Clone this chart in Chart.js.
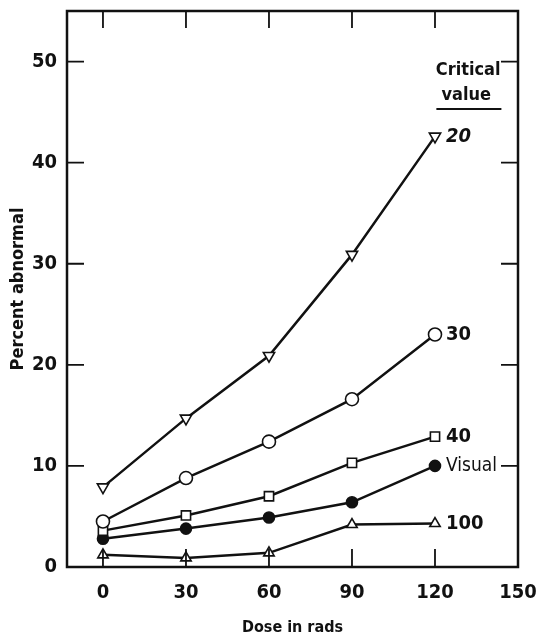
<!DOCTYPE html>
<html>
<head>
<meta charset="utf-8">
<script src="https://cdn.jsdelivr.net/npm/chart.js@4.4.1/dist/chart.umd.min.js"></script>
<style>
  html, body { margin: 0; padding: 0; background: #fff; }
</style>
</head>
<body>
<canvas id="doseChart" width="537" height="643"></canvas>
<script>
const doses = [0, 30, 60, 90, 120];
const seriesNames = ['20', '30', '40', 'Visual', '100'];
const crit20 = [7.9, 14.7, 20.9, 30.9, 42.6];
const crit30 = [4.5, 8.8, 12.4, 16.6, 23.0];
const crit40 = [3.6, 5.1, 7.0, 10.3, 12.9];
const visual = [2.8, 3.8, 4.9, 6.4, 10.0];
const crit100 = [1.2, 0.9, 1.4, 4.2, 4.3];
const xTicks = [0, 30, 60, 90, 120, 150];
const yTicks = [0, 10, 20, 30, 40, 50];

const FONT = '"Liberation Sans Narrow", "DejaVu Sans Condensed", "Arial Narrow", sans-serif';
const INK = '#111';

const allValues = [crit20, crit30, crit40, visual, crit100];
const markers = [
    { style: 'triangle', rotation: 180, radius: 6.5, fill: '#fff' },
    { style: 'circle', rotation: 0, radius: 6.5, fill: '#fff' },
    { style: 'rect', rotation: 0, radius: 6.5, fill: '#fff' },
    { style: 'circle', rotation: 0, radius: 5.5, fill: INK },
    { style: 'triangle', rotation: 0, radius: 6, fill: '#fff' }
];

const datasets = allValues.map((vals, i) => ({
    label: seriesNames[i],
    data: doses.map((d, j) => ({ x: d, y: vals[j] })),
    borderColor: INK,
    borderWidth: 2.5,
    tension: 0,
    pointStyle: markers[i].style,
    rotation: markers[i].rotation,
    pointRadius: markers[i].radius,
    pointBackgroundColor: markers[i].fill,
    pointBorderColor: INK,
    pointBorderWidth: 1.6
}));

// frame with inward ticks, end-of-line labels and the "Critical value" header
const framePlugin = {
    id: 'framePlugin',
    afterDraw(chart) {
        const { ctx, chartArea: a, scales: { x, y } } = chart;
        ctx.save();
        ctx.strokeStyle = INK;
        ctx.lineWidth = 2.5;
        ctx.strokeRect(a.left, a.top, a.right - a.left, a.bottom - a.top);

        ctx.lineWidth = 1.8;
        ctx.beginPath();
        xTicks.filter(v => v < 150).forEach(v => {
            const px = x.getPixelForValue(v);
            ctx.moveTo(px, a.bottom); ctx.lineTo(px, a.bottom - 18);
            ctx.moveTo(px, a.top); ctx.lineTo(px, a.top + 17);
        });
        yTicks.filter(v => v > 0).forEach(v => {
            const py = y.getPixelForValue(v);
            ctx.moveTo(a.left, py); ctx.lineTo(a.left + 17, py);
            ctx.moveTo(a.right, py); ctx.lineTo(a.right - 17, py);
        });
        ctx.stroke();

        ctx.fillStyle = INK;
        ctx.textBaseline = 'middle';
        ctx.textAlign = 'left';
        allValues.forEach((vals, i) => {
            const last = vals.length - 1;
            const px = x.getPixelForValue(doses[last]) + 11;
            const py = y.getPixelForValue(vals[last]);
            if (seriesNames[i] === '20') ctx.font = 'italic bold 20px ' + FONT;
            else if (seriesNames[i] === 'Visual') ctx.font = '19px ' + FONT;
            else ctx.font = 'bold 20px ' + FONT;
            ctx.fillText(seriesNames[i], px, py);
        });

        ctx.textAlign = 'center';
        ctx.font = 'bold 18px ' + FONT;
        const cx = x.getPixelForValue(132);
        ctx.fillText('Critical', cx, 70);
        ctx.fillText('value', cx - 2, 95);
        ctx.lineWidth = 2;
        ctx.beginPath();
        ctx.moveTo(x.getPixelForValue(120.5), 109);
        ctx.lineTo(x.getPixelForValue(144), 109);
        ctx.stroke();
        ctx.restore();
    }
};

new Chart(document.getElementById('doseChart'), {
    type: 'line',
    data: { datasets: datasets },
    options: {
        responsive: false,
        animation: false,
        layout: { padding: { top: 11, right: 19, left: 0, bottom: 0 } },
        plugins: {
            legend: { display: false },
            tooltip: { enabled: false }
        },
        scales: {
            x: {
                type: 'linear',
                min: -13,
                max: 150,
                afterBuildTicks: s => { s.ticks = xTicks.map(v => ({ value: v })); },
                afterFit: s => {
                    s.height = 76;
                    s.paddingLeft = 0;
                    s.paddingRight = 0;
                },
                grid: { display: false, drawTicks: false },
                border: { display: false },
                ticks: {
                    padding: 14,
                    color: INK,
                    maxRotation: 0,
                    autoSkip: false,
                    font: { family: FONT, size: 20, weight: 'bold' }
                },
                title: {
                    display: true,
                    text: 'Dose in rads',
                    color: INK,
                    padding: { top: 0, bottom: 6 },
                    font: { family: FONT, size: 16, weight: 'bold' }
                }
            },
            y: {
                type: 'linear',
                min: 0,
                max: 55,
                afterBuildTicks: s => { s.ticks = yTicks.map(v => ({ value: v })); },
                afterFit: s => {
                    s.width = 67;
                    s.paddingTop = 0;
                    s.paddingBottom = 0;
                },
                grid: { display: false, drawTicks: false },
                border: { display: false },
                ticks: {
                    padding: 10,
                    color: INK,
                    autoSkip: false,
                    font: { family: FONT, size: 20, weight: 'bold' }
                },
                title: {
                    display: true,
                    text: 'Percent abnormal',
                    color: INK,
                    padding: { top: 8, bottom: 0 },
                    font: { family: FONT, size: 18, weight: 'bold' }
                }
            }
        }
    },
    plugins: [framePlugin]
});
</script>
</body>
</html>
